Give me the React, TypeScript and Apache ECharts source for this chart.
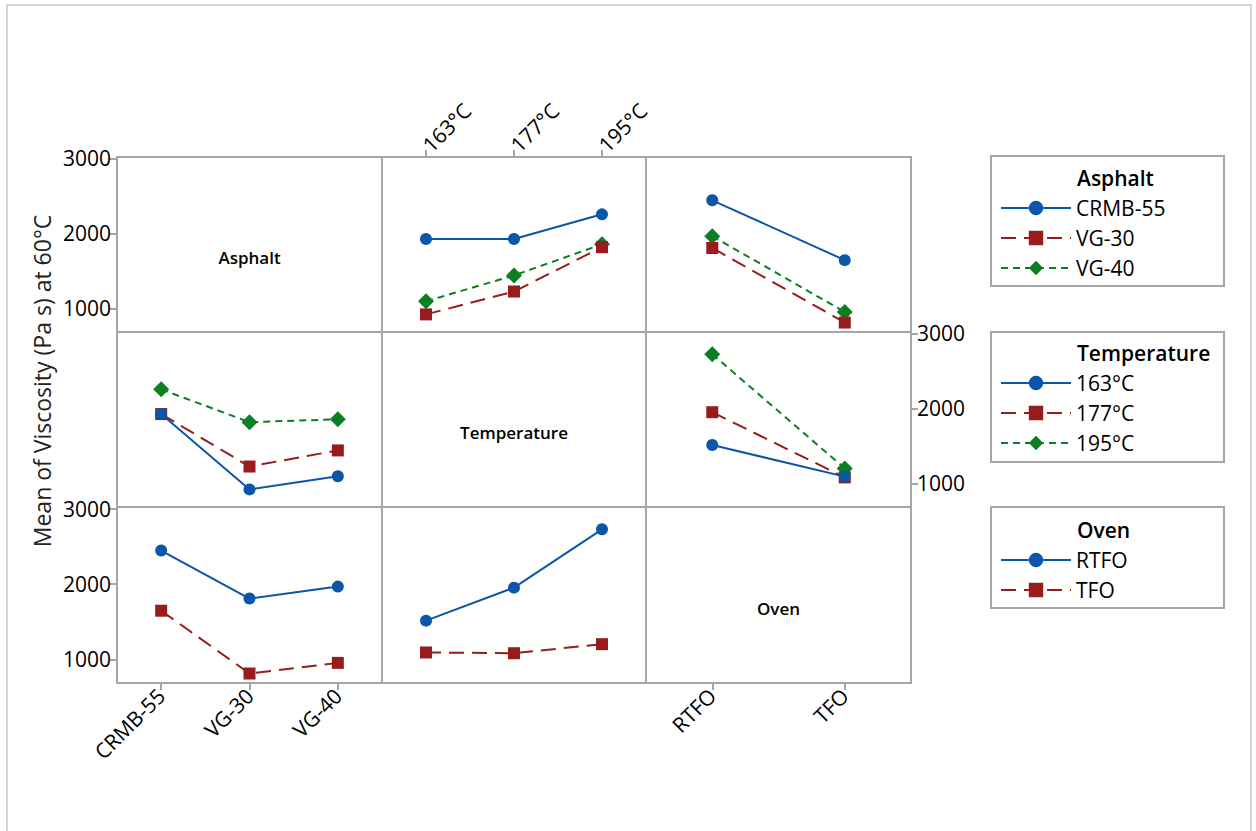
import React, { useEffect, useRef } from "react";
import * as echarts from "echarts";

// ---- Data (means of viscosity, Pa s, at 60°C) ----
const asphaltLevels = ["CRMB-55", "VG-30", "VG-40"];
const tempLevels = ["163°C", "177°C", "195°C"];
const ovenLevels = ["RTFO", "TFO"];
const factorNames = ["Asphalt", "Temperature", "Oven"];

// Asphalt x Temperature (163, 177, 195)
const crmbByTemp = [1925, 1925, 2255];
const vg30ByTemp = [920, 1225, 1817];
const vg40ByTemp = [1095, 1440, 1855];
// Asphalt x Oven (RTFO, TFO)
const crmbByOven = [2442, 1644];
const vg30ByOven = [1806, 811];
const vg40ByOven = [1964, 952];
// Oven x Temperature (163, 177, 195)
const rtfoByTemp = [1512, 1950, 2724];
const tfoByTemp = [1090, 1080, 1200];

const yTicks = [1000, 2000, 3000];

// ---- Layout ----
const colX = [117, 382, 646];
const colW = [265, 264, 265];
const rowY = [157, 332, 507];
const rowH = [175, 175, 176];
const Y_MIN = 685;
const Y_MAX = 3020;

const FONT = "'Open Sans', 'Noto Sans', sans-serif";
const GRAY = "#a6a6a6";
const INK = "#000";

const traceStyles = [
  { color: "#0b56a8", type: "solid" as any, symbol: "circle", size: 12 },
  { color: "#981c1c", type: [15, 8] as any, symbol: "rect", size: 12 },
  { color: "#0b7f22", type: [7, 5] as any, symbol: "diamond", size: 16 },
];

export default function App() {
  const ref = useRef<HTMLDivElement>(null);

  useEffect(() => {
    if (!ref.current) return;
    const chart = echarts.init(ref.current, undefined, { renderer: "svg" });

    const asphaltAsTraceOverTemp = [crmbByTemp, vg30ByTemp, vg40ByTemp];
    const asphaltAsTraceOverOven = [crmbByOven, vg30ByOven, vg40ByOven];
    const tempAsTraceOverAsphalt = tempLevels.map((_, i) => [crmbByTemp[i], vg30ByTemp[i], vg40ByTemp[i]]);
    const tempAsTraceOverOven = tempLevels.map((_, i) => [rtfoByTemp[i], tfoByTemp[i]]);
    const ovenAsTraceOverAsphalt = [
      [crmbByOven[0], vg30ByOven[0], vg40ByOven[0]],
      [crmbByOven[1], vg30ByOven[1], vg40ByOven[1]],
    ];
    const ovenAsTraceOverTemp = [rtfoByTemp, tfoByTemp];

    const colCats = [asphaltLevels, tempLevels, ovenLevels];
    const rowNames = [asphaltLevels, tempLevels, ovenLevels];

    const grids: any[] = [];
    const xAxes: any[] = [];
    const yAxes: any[] = [];
    for (let r = 0; r < 3; r++) {
      for (let c = 0; c < 3; c++) {
        grids.push({
          left: colX[c],
          top: rowY[r],
          width: colW[c],
          height: rowH[r],
          show: true,
          borderColor: GRAY,
          borderWidth: 2,
          backgroundColor: "transparent",
          containLabel: false,
        });
        const idx = r * 3 + c;
        const showX = (r === 0 && c === 1) || (r === 2 && (c === 0 || c === 2));
        xAxes.push({
          type: "category",
          gridIndex: idx,
          data: colCats[c],
          boundaryGap: true,
          position: r === 0 ? "top" : "bottom",
          axisLine: { show: false },
          axisTick: {
            show: showX,
            alignWithLabel: true,
            length: 7,
            lineStyle: { color: GRAY, width: 2 },
          },
          axisLabel: {
            show: showX,
            rotate: r === 0 ? -45 : 45,
            margin: 9,
            color: INK,
            fontSize: 21,
            fontFamily: FONT,
          },
          splitLine: { show: false },
        });
        const showY = (c === 0 && (r === 0 || r === 2)) || (c === 2 && r === 1);
        yAxes.push({
          type: "value",
          gridIndex: idx,
          min: Y_MIN,
          max: Y_MAX,
          position: c === 2 ? "right" : "left",
          axisLine: { show: false },
          splitLine: { show: false },
          axisTick: {
            show: showY,
            length: 7,
            customValues: yTicks,
            lineStyle: { color: GRAY, width: 2 },
          },
          axisLabel: {
            show: showY,
            customValues: yTicks,
            formatter: (v: number) => String(Math.round(v)),
            margin: 6,
            color: INK,
            fontSize: 21,
            fontFamily: FONT,
          },
        });
      }
    }

    const series: any[] = [];
    const addSeries = (name: string, data: number[], grid: number, s: number) => {
      const st = traceStyles[s];
      series.push({
        type: "line",
        name,
        data,
        xAxisIndex: grid,
        yAxisIndex: grid,
        symbol: st.symbol,
        symbolSize: st.size,
        showSymbol: true,
        color: st.color,
        itemStyle: { color: st.color },
        lineStyle: { color: st.color, width: 2, type: st.type },
        z: 3 + (2 - s),
        silent: true,
      });
    };
    // Row 0: Asphalt traces
    asphaltLevels.forEach((n, i) => addSeries(n, asphaltAsTraceOverTemp[i], 1, i));
    asphaltLevels.forEach((n, i) => addSeries(n, asphaltAsTraceOverOven[i], 2, i));
    // Row 1: Temperature traces
    tempLevels.forEach((n, i) => addSeries(n, tempAsTraceOverAsphalt[i], 3, i));
    tempLevels.forEach((n, i) => addSeries(n, tempAsTraceOverOven[i], 5, i));
    // Row 2: Oven traces
    ovenLevels.forEach((n, i) => addSeries(n, ovenAsTraceOverAsphalt[i], 6, i));
    ovenLevels.forEach((n, i) => addSeries(n, ovenAsTraceOverTemp[i], 7, i));

    const legendTops = [196, 371, 548];
    const legends = rowNames.map((names, k) => ({
      data: names,
      orient: "vertical",
      left: 1000,
      top: legendTops[k],
      padding: 0,
      itemWidth: 70,
      itemHeight: 18,
      itemGap: 6,
      selectedMode: false,
      textStyle: { fontSize: 21, fontFamily: FONT, color: INK, lineHeight: 24 },
    }));

    const boxes = [
      { y: 156, h: 130 },
      { y: 332, h: 130 },
      { y: 507, h: 101 },
    ];
    const titleY = [178, 353, 530];

    const graphic: any[] = [
      {
        type: "rect",
        shape: { x: 7, y: 5, width: 1244, height: 840 },
        style: { fill: "none", stroke: "#d4d4d4", lineWidth: 2 },
        silent: true,
      },
      {
        type: "text",
        x: 42,
        y: 381,
        rotation: Math.PI / 2,
        style: {
          text: "Mean of Viscosity (Pa s) at 60°C",
          fontSize: 23,
          fontFamily: FONT,
          fill: "#222",
          align: "center",
          verticalAlign: "middle",
        },
      },
    ];
    boxes.forEach((b, k) => {
      graphic.push({
        type: "rect",
        shape: { x: 991, y: b.y, width: 233, height: b.h },
        style: { fill: "none", stroke: GRAY, lineWidth: 2 },
        silent: true,
      });
      graphic.push({
        type: "text",
        x: 1077,
        y: titleY[k],
        style: {
          text: factorNames[k],
          fontSize: 21,
          fontWeight: 600,
          fontFamily: FONT,
          fill: INK,
          align: "left",
          verticalAlign: "middle",
        },
      });
    });
    for (let d = 0; d < 3; d++) {
      graphic.push({
        type: "text",
        x: colX[d] + colW[d] / 2,
        y: rowY[d] + rowH[d] / 2 + 13,
        style: {
          text: factorNames[d],
          fontSize: 17,
          fontWeight: 600,
          fontFamily: FONT,
          fill: INK,
          align: "center",
          verticalAlign: "middle",
        },
      });
    }

    chart.setOption({
      animation: false,
      backgroundColor: "#ffffff",
      grid: grids,
      xAxis: xAxes,
      yAxis: yAxes,
      legend: legends,
      series,
      graphic,
    });

    return () => chart.dispose();
  }, []);

  return (
    <div
      ref={ref}
      style={{ position: "absolute", left: 0, top: 0, width: 1256, height: 831 }}
    />
  );
}
